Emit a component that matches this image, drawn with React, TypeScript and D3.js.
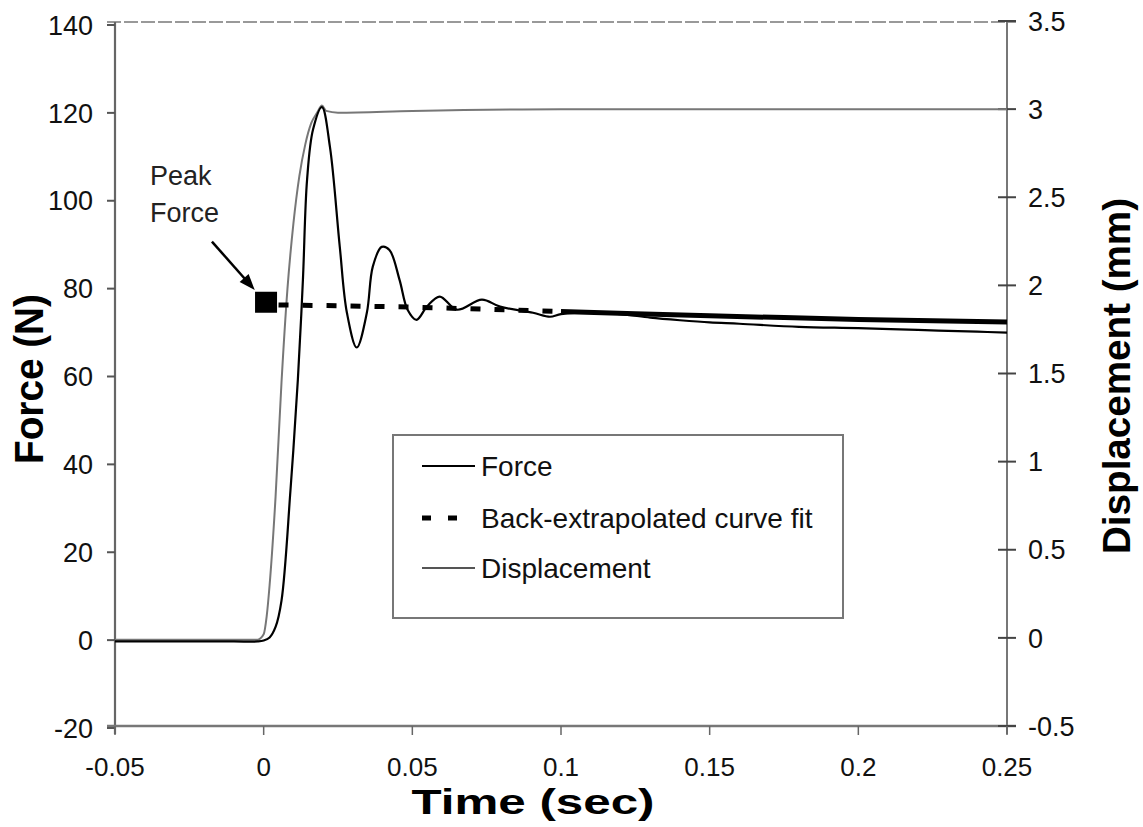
import React from "react";
import * as d3 from "d3";

// ---- data ----
const xTicks = [-0.05, 0, 0.05, 0.1, 0.15, 0.2, 0.25];
const xTickLabels = ["-0.05", "0", "0.05", "0.1", "0.15", "0.2", "0.25"];
const forceTicks = [-20, 0, 20, 40, 60, 80, 100, 120, 140];
const dispTicks = [-0.5, 0, 0.5, 1, 1.5, 2, 2.5, 3, 3.5];
const dispTickLabels = ["-0.5", "0", "0.5", "1", "1.5", "2", "2.5", "3", "3.5"];

const forceTime = [-0.05, -0.03, -0.01, -0.002, 0, 0.002, 0.004, 0.006, 0.009, 0.0115, 0.0132, 0.0146, 0.0166, 0.0196, 0.0223, 0.0256, 0.028, 0.0313, 0.0347, 0.0367, 0.0397, 0.0423, 0.0457, 0.0484, 0.0514, 0.0549, 0.0592, 0.065, 0.0734, 0.0795, 0.0906, 0.0963, 0.1, 0.11, 0.12, 0.13, 0.14, 0.15, 0.16, 0.18, 0.2, 0.22, 0.24, 0.25];
const forceValues = [-0.3, -0.3, -0.3, -0.3, -0.1, 0.6, 3, 9, 34, 59.3, 82, 104.8, 116.2, 121.3, 112.2, 89.5, 74.5, 66.6, 74.5, 85, 89.5, 88.8, 82, 75.2, 72.9, 75.9, 78.2, 75.2, 77.5, 75.9, 74.5, 73.6, 74.2, 74.6, 74.2, 73.4, 72.8, 72.3, 72.0, 71.3, 71.0, 70.6, 70.2, 70.0];

const dispTime = [-0.05, -0.03, -0.01, -0.002, 0, 0.001, 0.002, 0.004, 0.006, 0.008, 0.01, 0.012, 0.014, 0.016, 0.018, 0.0196, 0.021, 0.025, 0.05, 0.1, 0.15, 0.2, 0.25];
const dispValues = [-0.01, -0.01, -0.01, -0.01, 0.02, 0.12, 0.3, 0.8, 1.45, 1.98, 2.35, 2.62, 2.8, 2.92, 2.98, 3.02, 2.99, 2.98, 2.99, 3.0, 3.0, 3.0, 3.0];

const fitTime = [0.005, 0.025, 0.05, 0.075, 0.1, 0.125, 0.15, 0.175, 0.2, 0.225, 0.25];
const fitValues = [76.3, 76.1, 75.8, 75.3, 74.8, 74.3, 73.8, 73.4, 73.0, 72.7, 72.4];
const fitSplitTime = 0.1;

const peakPoint = [0.0008, 76.9];
const arrowFrom = [-0.0174, 90.7];
const arrowTo = [-0.003, 79.7];

const legendItems = ["Force", "Back-extrapolated curve fit", "Displacement"];

// ---- layout ----
const W = 1143;
const H = 827;
const X0 = 115;
const X1 = 1007;
const FONT = "'Liberation Sans', Arial, Helvetica, sans-serif";

export default function App() {
  const x = d3.scaleLinear().domain([-0.05, 0.25]).range([X0, X1]);
  const yF = d3.scaleLinear().domain([-20, 140]).range([728, 25]);
  const yD = d3.scaleLinear().domain([-0.5, 3.5]).range([726, 21]);
  const bottomY = 726;
  const topY = 22;

  const forceData = forceTime.map((t, i) => [t, forceValues[i]] as [number, number]);
  const dispData = dispTime.map((t, i) => [t, dispValues[i]] as [number, number]);
  const fitData = fitTime.map((t, i) => [t, fitValues[i]] as [number, number]);
  const fitDashed = fitData.filter((d) => d[0] <= fitSplitTime);
  const fitSolid = fitData.filter((d) => d[0] >= fitSplitTime);

  const lineF = d3
    .line<[number, number]>()
    .x((d) => x(d[0]))
    .y((d) => yF(d[1]))
    .curve(d3.curveCatmullRom.alpha(0.5));
  const lineD = d3
    .line<[number, number]>()
    .x((d) => x(d[0]))
    .y((d) => yD(d[1]))
    .curve(d3.curveMonotoneX);
  const lineFit = d3
    .line<[number, number]>()
    .x((d) => x(d[0]))
    .y((d) => yF(d[1]));

  const ax1 = x(arrowFrom[0]);
  const ay1 = yF(arrowFrom[1]);
  const ax2 = x(arrowTo[0]);
  const ay2 = yF(arrowTo[1]);
  const ang = Math.atan2(ay2 - ay1, ax2 - ax1);
  const hl = 16;
  const hw = 6;
  const head = [
    [ax2, ay2],
    [ax2 - hl * Math.cos(ang) + hw * Math.sin(ang), ay2 - hl * Math.sin(ang) - hw * Math.cos(ang)],
    [ax2 - hl * Math.cos(ang) - hw * Math.sin(ang), ay2 - hl * Math.sin(ang) + hw * Math.cos(ang)],
  ];

  const lgX = 393;
  const lgY = 435;
  const lgW = 450;
  const lgH = 183;
  const rowY = [466, 518, 568];

  return (
    <svg
      width={W}
      height={H}
      style={{ position: "absolute", left: 0, top: 0, background: "#fff" }}
      fontFamily={FONT}
    >
      <rect x={0} y={0} width={W} height={H} fill="#fff" />

      {/* frame */}
      <line x1={107} x2={1016} y1={topY} y2={topY} stroke="#999" strokeWidth={2} strokeDasharray="14 3" />
      <line x1={X0} x2={X0} y1={topY} y2={bottomY + 8} stroke="#666" strokeWidth={2.2} />
      <line x1={X1} x2={X1} y1={topY} y2={bottomY + 8} stroke="#777" strokeWidth={2} />
      <line x1={107} x2={1016} y1={bottomY} y2={bottomY} stroke="#777" strokeWidth={2.5} />

      {/* left ticks */}
      {forceTicks.map((v) => (
        <g key={"lt" + v}>
          <line x1={X0 - 8} x2={X0} y1={yF(v)} y2={yF(v)} stroke="#555" strokeWidth={2} />
          <text x={93} y={yF(v)} dy="0.36em" textAnchor="end" fontSize={27} fill="#111">
            {v}
          </text>
        </g>
      ))}

      {/* right ticks */}
      {dispTicks.map((v, i) => (
        <g key={"rt" + v}>
          <line x1={X1 - 9} x2={X1 + 9} y1={yD(v)} y2={yD(v)} stroke="#444" strokeWidth={2} />
          <text x={1028} y={yD(v)} dy="0.36em" textAnchor="start" fontSize={27} fill="#111">
            {dispTickLabels[i]}
          </text>
        </g>
      ))}

      {/* bottom ticks */}
      {xTicks.map((v, i) => (
        <g key={"bt" + v}>
          <line x1={x(v)} x2={x(v)} y1={bottomY} y2={bottomY + 9} stroke="#666" strokeWidth={1.5} />
          <text x={x(v)} y={776} textAnchor="middle" fontSize={26} fill="#111">
            {xTickLabels[i]}
          </text>
        </g>
      ))}

      {/* axis titles */}
      <text x={533} y={814} textAnchor="middle" fontSize={35} fontWeight="bold" fill="#000" textLength={243} lengthAdjust="spacingAndGlyphs">
        Time (sec)
      </text>
      <text
        transform={`translate(43,379) rotate(-90)`}
        textAnchor="middle"
        fontSize={41}
        fontWeight="bold"
        fill="#000"
        textLength={170}
        lengthAdjust="spacingAndGlyphs"
      >
        Force (N)
      </text>
      <text
        transform={`translate(1130,376) rotate(-90)`}
        textAnchor="middle"
        fontSize={39}
        fontWeight="bold"
        fill="#000"
        textLength={356}
        lengthAdjust="spacingAndGlyphs"
      >
        Displacement (mm)
      </text>

      {/* series */}
      <path d={lineD(dispData) || ""} fill="none" stroke="#777" strokeWidth={2} />
      <path d={lineF(forceData) || ""} fill="none" stroke="#000" strokeWidth={2.2} />
      <path d={lineFit(fitDashed) || ""} fill="none" stroke="#000" strokeWidth={5} strokeDasharray="10 14" />
      <path d={lineFit(fitSolid) || ""} fill="none" stroke="#000" strokeWidth={5} />

      {/* peak marker */}
      <rect x={x(peakPoint[0]) - 11} y={yF(peakPoint[1]) - 10.5} width={22} height={21} fill="#000" />

      {/* annotation */}
      <line x1={ax1} y1={ay1} x2={ax2 - 10 * Math.cos(ang)} y2={ay2 - 10 * Math.sin(ang)} stroke="#000" strokeWidth={2.5} />
      <polygon points={head.map((p) => p.join(",")).join(" ")} fill="#000" />
      <text x={150} y={185} fontSize={27} fill="#222">
        Peak
      </text>
      <text x={150} y={222} fontSize={27} fill="#222">
        Force
      </text>

      {/* legend */}
      <rect x={lgX} y={lgY} width={lgW} height={lgH} fill="#fff" stroke="#777" strokeWidth={2} />
      <line x1={422} x2={475} y1={rowY[0]} y2={rowY[0]} stroke="#000" strokeWidth={1.8} />
      <line x1={422} x2={458} y1={rowY[1]} y2={rowY[1]} stroke="#000" strokeWidth={5} strokeDasharray="9 17" />
      <line x1={422} x2={475} y1={rowY[2]} y2={rowY[2]} stroke="#555" strokeWidth={1.8} />
      {legendItems.map((s, i) => (
        <text key={s} x={481} y={rowY[i]} dy="0.36em" fontSize={28} fill="#111">
          {s}
        </text>
      ))}
    </svg>
  );
}
